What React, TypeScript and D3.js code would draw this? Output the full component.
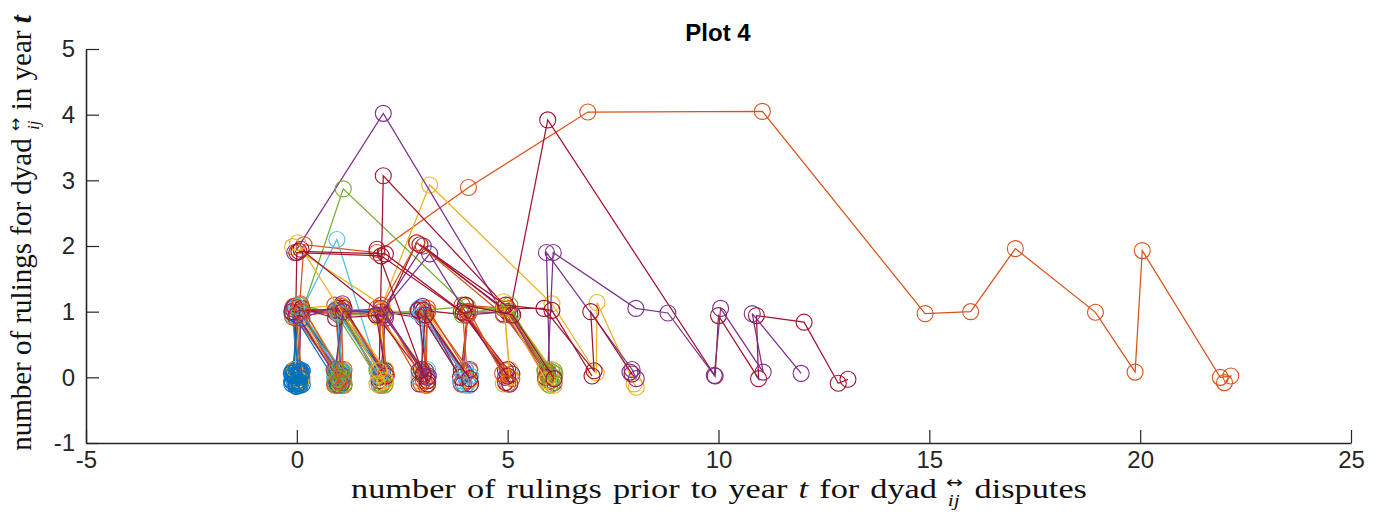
import React, { useEffect, useRef } from 'react';
import * as d3 from 'd3';

type Pt = [number, number];

const xTicks = [-5, 0, 5, 10, 15, 20, 25];
const yTicks = [-1, 0, 1, 2, 3, 4, 5];
const seriesColors = ['#0072BD', '#D95319', '#EDB120', '#7E2F8E', '#77AC30', '#4DBEEE', '#A2142F'];

// each dyad: [rulings prior to year t, rulings in year t] per year (jittered as in the figure)
const blueDyads: Pt[][] = [
  [[0.02, 0.05], [-0.08, -0.03], [0.1, 0.08], [-0.05, -0.1], [0.07, 0.12]],
  [[-0.1, 0.1], [0.05, -0.06], [-0.03, 0.93], [1.04, 0.05], [0.95, -0.08]],
  [[0.08, -0.12], [-0.06, 0.02], [0.12, -0.04], [0.0, 0.14], [-0.11, -0.07]],
  [[-0.12, -0.05], [0.04, 1.06], [1.08, -0.02], [0.92, 0.1], [1.02, -0.1]],
  [[0.1, 0.03], [-0.02, -0.09], [-0.1, 0.06], [0.06, 0.0], [0.13, -0.11]],
  [[0.0, -0.13], [-0.07, 0.11], [0.09, 0.95], [1.05, 0.12], [0.9, 0.0]],
  [[0.06, -0.08], [-0.1, 0.98], [0.98, -0.12], [1.1, 0.02], [0.92, 1.02], [2.04, 0.1]],
  [[-0.13, 0.06], [0.13, 0.1], [-0.02, -0.14], [0.04, 0.08]],
  [[-0.04, 0.0], [0.08, 0.1], [-0.12, -0.1], [0.03, -0.05], [0.11, 0.05], [-0.09, 0.03], [0.05, -0.12]],
];

const orangeDyads: Pt[][] = [
  [[-0.05, 0.08], [0.17, 2.02], [1.9, 1.9], [4.07, 2.89], [6.9, 4.04], [11.04, 4.05], [14.9, 0.97], [15.98, 1.0],
    [17.04, 1.96], [18.94, 0.99], [19.88, 0.08], [20.05, 1.93], [21.9, 0.0], [22.15, 0.02], [22.0, -0.08]],
  [[0.05, 0.1], [-0.1, 1.04], [0.95, 0.08], [1.1, -0.05], [0.88, 0.12]],
  [[0.1, 0.97], [1.05, 0.02], [0.9, 1.1], [2.05, -0.08], [1.95, 0.06]],
  [[-0.08, 1.08], [1.08, 0.95], [2.1, 0.1], [1.9, 1.05], [2.95, -0.1]],
  [[0.12, 0.0], [-0.02, 0.9], [1.12, -0.12], [0.94, 0.12], [1.06, 1.02], [2.0, -0.12]],
  [[2.9, 1.05], [4.05, -0.05], [3.92, 1.1], [5.0, 1.05], [5.95, 0.03]],
  [[-0.1, 0.92], [0.9, 1.0], [1.9, 0.95], [2.85, 2.05], [4.9, 0.95], [5.9, 0.1]],
  [[3.0, -0.05], [3.1, 1.0], [4.1, 0.1], [3.9, -0.1], [4.05, 0.95], [5.1, -0.02]],
  [[0.08, 1.12], [1.1, 0.0], [1.05, 1.08], [2.12, 0.04], [2.0, 1.1], [3.06, -0.12], [3.1, 1.05], [4.0, 0.12]],
  [[0.13, 1.0], [1.0, -0.06], [0.9, -0.12], [1.12, 0.12]],
  [[4.1, 1.0], [5.0, -0.1], [4.88, 0.06]],
];

const yellowDyads: Pt[][] = [
  [[-0.1, 1.99], [2.02, 1.1], [3.15, 2.93], [6.05, 1.12], [7.1, 0.07], [7.12, 1.14], [8.0, -0.1], [8.05, -0.15]],
  [[0.05, -0.1], [0.1, 1.1], [1.05, 0.1], [0.95, -0.12], [1.1, 1.05], [2.1, -0.1]],
  [[1.95, -0.12], [2.1, 0.05], [2.0, 1.0], [3.05, 0.1], [2.9, -0.05]],
  [[4.9, -0.1], [5.05, 0.12], [4.9, 1.15], [6.05, 0.12], [5.95, -0.1]],
  [[0.05, 1.05], [1.05, 1.1], [2.1, 0.12], [2.05, 1.02], [3.1, 0.98], [4.1, -0.05]],
  [[0.1, -0.05], [-0.05, 0.12], [0.08, 0.95], [1.02, -0.1], [1.1, 0.1]],
  [[1.92, 0.92], [2.98, 0.12], [3.1, -0.12]],
  [[5.05, 0.0], [4.92, 1.05], [5.92, -0.05], [6.1, -0.12]],
  [[0.02, 2.05], [1.95, 0.1], [2.1, -0.05], [1.9, -0.1]],
];

const purpleDyads: Pt[][] = [
  [[-0.05, 1.9], [2.05, 4.02], [4.9, 0.97], [5.95, 0.05], [6.1, -0.08]],
  [[0.0, 0.1], [-0.1, 1.05], [1.0, 0.95], [2.0, 1.0], [3.0, 2.0], [5.05, 0.95], [5.95, 0.08], [6.08, 1.9], [8.04, 1.05],
    [8.8, 0.98], [9.9, 0.03], [10.05, 1.05], [11.06, 0.08], [10.8, 0.97], [11.96, 0.06]],
  [[0.05, 0.0], [0.1, 1.0], [1.0, 1.0], [2.0, 1.0], [3.0, 0.95], [3.95, 0.1], [4.05, 0.95], [5.0, 1.0], [6.0, -0.05],
    [5.92, 1.9], [7.95, 0.12], [8.05, -0.02], [7.9, 0.08]],
  [[0.0, -0.1], [0.1, 0.05], [-0.05, 1.08], [1.05, 0.02], [0.95, -0.1]],
  [[2.9, -0.1], [3.05, 0.1], [3.1, -0.05], [2.95, 1.05], [4.0, 0.05], [3.9, -0.1]],
  [[1.95, 0.95], [3.15, 1.88], [4.95, 0.0], [5.05, -0.1]],
  [[2.98, 1.08], [3.95, -0.1], [4.1, 0.12]],
  [[0.12, 0.9], [1.08, 1.12], [2.0, 0.1], [2.1, 0.9], [3.12, 0.02]],
  [[0.0, 0.95], [1.0, -0.05], [0.9, 0.1], [1.1, 1.0], [2.0, 1.05], [3.1, 0.0], [2.9, 0.1]],
];

const greenDyads: Pt[][] = [
  [[0.1, 0.95], [1.1, 2.87], [4.0, 1.1], [5.0, 1.0], [6.0, 0.05], [5.9, -0.05], [6.1, 0.1], [6.05, -0.1]],
  [[0.0, 0.05], [0.1, 1.0], [1.05, 0.1], [0.95, -0.05], [1.05, -0.12], [1.1, 0.05]],
  [[0.95, 0.0], [1.1, 0.08], [0.9, -0.1], [1.0, 0.12], [1.08, -0.08]],
  [[5.0, 1.05], [6.1, 0.0], [5.95, 0.12], [6.0, -0.12], [6.12, 0.05]],
  [[0.05, 1.1], [1.1, 0.95], [2.0, 0.95], [3.0, 1.02], [4.05, 1.08], [5.1, 0.98], [6.05, 0.08]],
  [[0.9, 1.0], [2.0, -0.1], [1.9, 0.1]],
  [[3.92, 0.95], [5.05, 1.1], [6.02, -0.06], [5.88, 0.1]],
  [[1.0, 0.98], [1.95, 0.12], [2.08, -0.12]],
  [[1.0, 0.02], [0.92, 0.1], [1.12, -0.1], [0.98, -0.02], [1.05, 0.09], [0.9, -0.08]],
];

const cyanDyads: Pt[][] = [
  [[0.1, 1.0], [0.95, 2.1], [1.9, 0.15], [2.0, -0.05]],
  [[0.0, 0.1], [-0.1, 0.95], [0.95, 1.05], [2.0, 1.0], [2.85, 1.0], [3.95, 0.1], [4.05, -0.1]],
  [[0.05, -0.05], [0.12, 0.1], [-0.05, -0.12]],
  [[1.0, 0.05], [1.1, 0.95], [2.1, 0.05], [1.95, -0.1]],
  [[0.1, 0.92], [1.0, 0.1], [1.05, -0.05]],
  [[3.0, 0.08], [2.9, 1.05], [3.95, 0.05], [4.1, -0.12]],
  [[2.9, 0.0], [3.1, 0.12], [2.95, 0.95], [4.0, -0.12]],
  [[0.0, 1.08], [1.08, 0.1], [0.95, 1.0], [1.95, 0.02]],
  [[4.0, 0.12], [3.88, -0.05], [4.12, 0.02]],
];

const redDyads: Pt[][] = [
  [[0.05, 1.05], [0.95, 1.0], [2.0, 1.0], [3.0, 0.9], [3.9, 0.1], [4.05, 1.0], [5.05, 0.98], [5.95, 3.92], [9.92, 0.02],
    [10.0, 0.94], [10.95, -0.02], [10.9, 0.94], [12.03, 0.84], [12.84, -0.09], [13.07, -0.03]],
  [[-0.05, 0.1], [0.0, 1.9], [2.0, 1.85], [3.9, 1.0], [4.95, 0.1], [5.05, -0.1]],
  [[1.95, 0.0], [2.05, 3.07], [5.0, 1.05], [5.86, 1.05], [7.05, 0.1], [6.97, 1.0], [7.95, 0.05]],
  [[0.0, 0.95], [1.05, -0.1], [1.0, 1.05], [1.95, -0.05], [2.1, 0.1]],
  [[0.1, 1.95], [2.05, 0.95], [2.84, 2.05], [4.9, 1.05], [5.9, 0.0]],
  [[3.0, 1.02], [4.0, 0.95], [5.0, 0.12], [4.95, -0.08], [5.1, 0.05]],
  [[0.12, 1.05], [0.92, 0.9], [2.1, 0.95], [3.1, -0.05], [2.88, 1.02], [3.88, 0.0], [4.12, -0.1]],
  [[-0.12, 1.0], [1.12, 1.05], [2.12, 0.02], [1.88, 0.95], [3.0, 0.02]],
  [[1.9, 1.95], [3.0, 0.05], [3.1, -0.1], [2.95, 0.12], [3.05, 0.95], [4.1, -0.02]],
  [[0.05, 1.92], [2.1, 1.88], [3.95, 0.98], [5.0, 0.02]],
  [[4.0, 1.1], [5.12, 0.95], [6.1, -0.02]],
  [[2.92, 2.02], [4.95, 1.1], [6.05, 1.02], [7.0, 0.02]],
];

const W = 1384;
const H = 527;
const axisColor = '#262626';
const serif = '"Liberation Serif", "Times New Roman", serif';

const App: React.FC = () => {
  const xAxisRef = useRef<SVGGElement>(null);
  const yAxisRef = useRef<SVGGElement>(null);

  const x = d3.scaleLinear().domain([-5, 25]).range([86, 1351]);
  const y = d3.scaleLinear().domain([-1, 5]).range([443, 49]);

  const line = d3.line<Pt>().x(d => x(d[0])).y(d => y(d[1]));

  // plot order follows the MATLAB colour cycle
  const groups = [blueDyads, orangeDyads, yellowDyads, purpleDyads, greenDyads, cyanDyads, redDyads];
  const maxLen = d3.max(groups, g => g.length) || 0;
  const series: { pts: Pt[]; color: string }[] = [];
  for (let k = 0; k < maxLen; k++) {
    groups.forEach((g, c) => {
      if (g[k]) series.push({ pts: g[k], color: seriesColors[c] });
    });
  }

  useEffect(() => {
    document.body.style.margin = '0';

    const fmt = (d: d3.NumberValue) => String(d);
    const xAxis = d3.select(xAxisRef.current!);
    xAxis.call(d3.axisBottom(x).tickValues(xTicks).tickFormat(fmt).tickSizeInner(-13).tickSizeOuter(0).tickPadding(8));
    const yAxis = d3.select(yAxisRef.current!);
    yAxis.call(d3.axisLeft(y).tickValues(yTicks).tickFormat(fmt).tickSizeInner(-13).tickSizeOuter(0).tickPadding(11));

    [xAxis, yAxis].forEach(a => {
      a.attr('font-family', '"Liberation Sans", Arial, sans-serif').attr('font-size', 24);
      a.select('.domain').attr('stroke', axisColor).attr('stroke-width', 1.6);
      a.selectAll('.tick line').attr('stroke', axisColor).attr('stroke-width', 1.2);
      a.selectAll('.tick text').attr('fill', axisColor);
    });
  }, []);

  return (
    <svg width={W} height={H} style={{ display: 'block', background: '#fff' }}>
      <text x={718} y={41} textAnchor="middle" fontFamily='"Liberation Sans", Arial, sans-serif'
        fontWeight="bold" fontSize={24} fill="#000">Plot 4</text>

      {series.map((s, i) => (
        <g key={i}>
          <path d={line(s.pts) || ''} fill="none" stroke={s.color} strokeWidth={1.25} />
          {s.pts.map((p, j) => (
            <circle key={j} cx={x(p[0])} cy={y(p[1])} r={8} fill="none" stroke={s.color} strokeWidth={1.1} />
          ))}
        </g>
      ))}

      <g ref={xAxisRef} transform={`translate(0,${y(-1)})`} />
      <g ref={yAxisRef} transform={`translate(${x(-5)},0)`} />

      <text transform="translate(719,498) scale(1.27,1)" textAnchor="middle" fontFamily={serif} fontSize={27}
        wordSpacing={2} fill="#111">
        number of rulings prior to year <tspan fontStyle="italic">t</tspan> for dyad
        <tspan dx={7} dy={-10} fontSize={16} fontFamily='"DejaVu Sans", sans-serif'>↔</tspan>
        <tspan dx={-12} dy={18} fontSize={17} fontStyle="italic">ij</tspan>
        <tspan dx={3} dy={-8}> disputes</tspan>
      </text>

      <text transform="translate(31,233) rotate(-90)" textAnchor="middle"
        fontFamily={serif} fontSize={29} fill="#111">
        number of rulings for dyad
        <tspan dx={7} dy={-10} fontSize={16} fontFamily='"DejaVu Sans", sans-serif'>↔</tspan>
        <tspan dx={-12} dy={18} fontSize={17} fontStyle="italic">ij</tspan>
        <tspan dx={3} dy={-8}> in year </tspan>
        <tspan fontStyle="italic" fontWeight="bold">t</tspan>
      </text>
    </svg>
  );
};

export default App;
